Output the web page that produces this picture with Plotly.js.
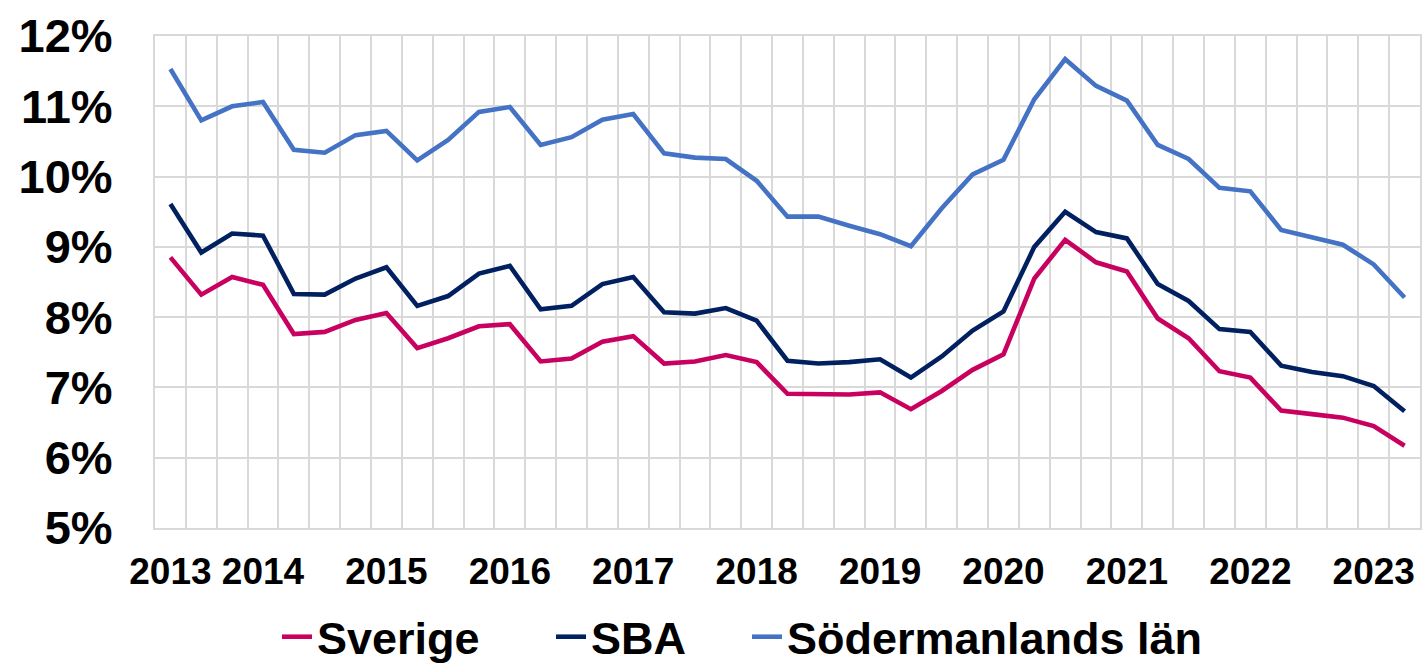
<!DOCTYPE html>
<html>
<head>
<meta charset="utf-8">
<script src="https://cdn.plot.ly/plotly-3.0.1.min.js"></script>
<style>
  html, body { margin: 0; padding: 0; background: #ffffff; }
  #chart { width: 1422px; height: 667px; }
</style>
</head>
<body>
<div id="chart"></div>
<script>
// Quarterly categories 2013 K1 .. 2023 K1
const quarters = [
  "2013K1","2013K2","2013K3","2013K4",
  "2014K1","2014K2","2014K3","2014K4",
  "2015K1","2015K2","2015K3","2015K4",
  "2016K1","2016K2","2016K3","2016K4",
  "2017K1","2017K2","2017K3","2017K4",
  "2018K1","2018K2","2018K3","2018K4",
  "2019K1","2019K2","2019K3","2019K4",
  "2020K1","2020K2","2020K3","2020K4",
  "2021K1","2021K2","2021K3","2021K4",
  "2022K1","2022K2","2022K3","2022K4",
  "2023K1"
];

// Axis labels shown under the categories ("" = no label)
const tickLabels = [
  "2013","","","2014",
  "","","","2015",
  "","","","2016",
  "","","","2017",
  "","","","2018",
  "","","","2019",
  "","","","2020",
  "","","","2021",
  "","","","2022",
  "","","","2023",
  ""
];

// Series values (percent)
const sverige = [
  8.85, 8.32, 8.57, 8.46, 7.76, 7.79, 7.96, 8.06, 7.56, 7.70,
  7.87, 7.90, 7.37, 7.41, 7.65, 7.73, 7.34, 7.37, 7.46, 7.36,
  6.91, 6.90, 6.90, 6.93, 6.69, 6.95, 7.25, 7.47, 8.55, 9.10,
  8.78, 8.65, 7.98, 7.70, 7.23, 7.14, 6.67, 6.62, 6.57, 6.45,
  6.17
];

const sba = [
  9.61, 8.92, 9.19, 9.16, 8.33, 8.32, 8.55, 8.71, 8.16, 8.30,
  8.62, 8.73, 8.11, 8.16, 8.47, 8.57, 8.07, 8.05, 8.13, 7.95,
  7.38, 7.34, 7.36, 7.40, 7.14, 7.44, 7.81, 8.08, 9.00, 9.50,
  9.21, 9.12, 8.47, 8.23, 7.83, 7.79, 7.31, 7.22, 7.16, 7.02,
  6.66
];

const sodermanland = [
  11.53, 10.80, 11.00, 11.06, 10.38, 10.34, 10.59, 10.65, 10.23, 10.52,
  10.92, 10.99, 10.45, 10.56, 10.81, 10.89, 10.33, 10.27, 10.25, 9.94,
  9.43, 9.43, 9.30, 9.18, 9.01, 9.55, 10.03, 10.24, 11.10, 11.67,
  11.29, 11.08, 10.45, 10.25, 9.84, 9.79, 9.24, 9.13, 9.03, 8.75,
  8.28
];

const seriesNames = ["Sverige", "SBA", "Södermanlands län"];
const seriesColors = ["#C8005F", "#002060", "#4472C4"];
const seriesData = [sverige, sba, sodermanland];
const legendIds = ["legend", "legend2", "legend3"];

const FONT = "'Liberation Sans', Arial, sans-serif";
const GRID = "#D9D9D9";

const traces = seriesData.map((vals, k) => ({
  type: "scatter",
  mode: "lines",
  name: seriesNames[k],
  legend: legendIds[k],
  x: quarters,
  y: vals,
  line: { color: seriesColors[k], width: 4.6 },
  hoverinfo: "skip"
}));

const legendFont = { family: FONT, size: 45, color: "#000000", weight: "bold" };
function legendAt(xc) {
  return {
    orientation: "h",
    xref: "container", yref: "container",
    x: xc, xanchor: "left",
    y: 0.099, yanchor: "top",
    font: legendFont,
    bgcolor: "rgba(0,0,0,0)"
  };
}

const layout = {
  width: 1422,
  height: 667,
  paper_bgcolor: "#ffffff",
  plot_bgcolor: "#ffffff",
  margin: { l: 155, r: 2, t: 36, b: 139 },
  font: { family: FONT, color: "#000000" },
  showlegend: true,
  legend: legendAt(0.1948),
  legend2: legendAt(0.3875),
  legend3: legendAt(0.5253),
  xaxis: {
    type: "category",
    tickmode: "array",
    tickvals: quarters,
    ticktext: tickLabels,
    tickson: "boundaries",
    ticks: "",
    tickangle: 0,
    showgrid: true,
    gridcolor: GRID,
    gridwidth: 2,
    showline: true,
    linecolor: GRID,
    linewidth: 2,
    mirror: true,
    zeroline: false,
    ticklabelstandoff: 10,
    tickfont: { family: FONT, size: 37, color: "#000000", weight: "bold" },
    range: [-0.5, quarters.length - 0.5],
    fixedrange: true
  },
  yaxis: {
    range: [5, 12],
    tickmode: "linear",
    tick0: 5,
    dtick: 1,
    ticksuffix: "%",
    ticks: "",
    showgrid: true,
    gridcolor: GRID,
    gridwidth: 2,
    showline: true,
    linecolor: GRID,
    linewidth: 2,
    mirror: true,
    zeroline: false,
    ticklabelstandoff: 31,
    tickfont: { family: FONT, size: 47, color: "#000000", weight: "bold" },
    fixedrange: true
  }
};

Plotly.newPlot("chart", traces, layout, { displayModeBar: false, staticPlot: true });
</script>
</body>
</html>
